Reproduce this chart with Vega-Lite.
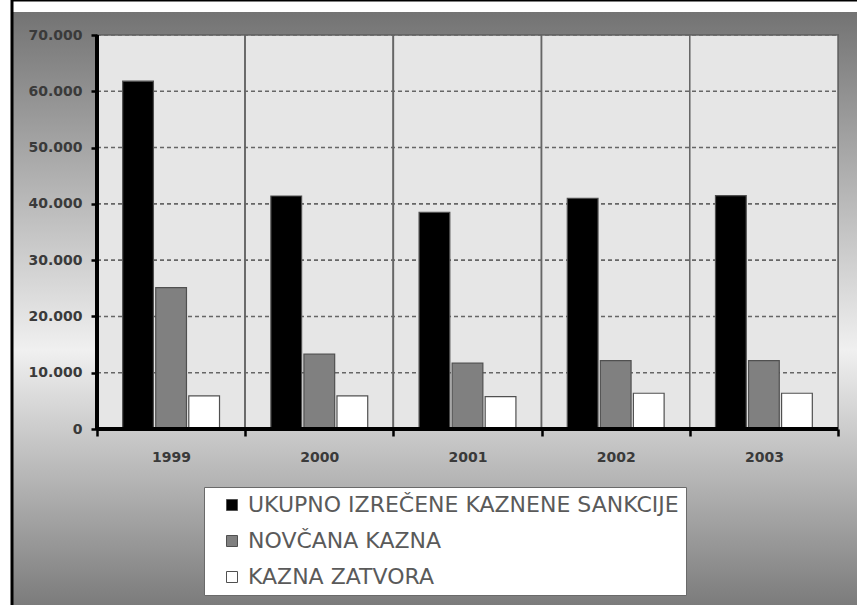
{
  "$schema": "https://vega.github.io/schema/vega-lite/v6.json",
  "width": 848,
  "height": 608,
  "autosize": {"type": "none"},
  "padding": {"left": 12, "top": 0, "right": 0, "bottom": 0},
  "background": "white",
  "view": {
    "fill": {
      "gradient": "linear", "x1": 0, "y1": 0, "x2": 0, "y2": 1,
      "stops": [
        {"offset": 0, "color": "#ffffff"},
        {"offset": 0.0195, "color": "#ffffff"},
        {"offset": 0.0198, "color": "#737373"},
        {"offset": 0.576, "color": "#f0f0f0"},
        {"offset": 1, "color": "#7a7a7a"}
      ]
    },
    "stroke": "black",
    "strokeWidth": 3
  },
  "config": {
    "font": "DejaVu Sans"
  },
  "datasets": {
    "main": [
      {"year": "1999", "series": "UKUPNO IZREČENE KAZNENE SANKCIJE", "value": 61800},
      {"year": "1999", "series": "NOVČANA KAZNA", "value": 25100},
      {"year": "1999", "series": "KAZNA ZATVORA", "value": 5900},
      {"year": "2000", "series": "UKUPNO IZREČENE KAZNENE SANKCIJE", "value": 41400},
      {"year": "2000", "series": "NOVČANA KAZNA", "value": 13300},
      {"year": "2000", "series": "KAZNA ZATVORA", "value": 5900},
      {"year": "2001", "series": "UKUPNO IZREČENE KAZNENE SANKCIJE", "value": 38500},
      {"year": "2001", "series": "NOVČANA KAZNA", "value": 11700},
      {"year": "2001", "series": "KAZNA ZATVORA", "value": 5750},
      {"year": "2002", "series": "UKUPNO IZREČENE KAZNENE SANKCIJE", "value": 41000},
      {"year": "2002", "series": "NOVČANA KAZNA", "value": 12150},
      {"year": "2002", "series": "KAZNA ZATVORA", "value": 6350},
      {"year": "2003", "series": "UKUPNO IZREČENE KAZNENE SANKCIJE", "value": 41450},
      {"year": "2003", "series": "NOVČANA KAZNA", "value": 12150},
      {"year": "2003", "series": "KAZNA ZATVORA", "value": 6350}
    ],
    "grid": [
      {"v": 10000}, {"v": 20000}, {"v": 30000}, {"v": 40000},
      {"v": 50000}, {"v": 60000}, {"v": 70000}
    ]
  },
  "data": {"name": "main"},
  "layer": [
    {
      "mark": {"type": "rect", "fill": "#e6e6e6", "stroke": "#666666", "strokeWidth": 1.5},
      "encoding": {
        "x": {
          "field": "year", "type": "nominal",
          "scale": {"domain": ["1999", "2000", "2001", "2002", "2003"], "range": [85, 826], "paddingInner": 0, "paddingOuter": 0},
          "axis": {
            "title": null, "domain": false, "grid": false, "offset": -179,
            "tickBand": "extent", "tickColor": "black", "tickWidth": 2.5, "tickSize": 7,
            "labelAngle": 0, "labelPadding": 14, "labelFont": "DejaVu Sans", "labelFontSize": 14,
            "labelFontWeight": "bold", "labelColor": "#3a3a3a", "zindex": 1
          }
        },
        "y": {
          "datum": 0, "type": "quantitative",
          "scale": {"domain": [0, 70000], "range": [429, 35], "nice": false, "zero": false},
          "axis": {
            "title": null, "domain": false, "grid": false, "offset": -85,
            "values": [0, 10000, 20000, 30000, 40000, 50000, 60000, 70000],
            "tickColor": "black", "tickWidth": 2.5, "tickSize": 6, "labelPadding": 9,
            "labelExpr": "replace(format(datum.value, ','), ',', '.')",
            "labelFont": "DejaVu Sans", "labelFontSize": 14, "labelFontWeight": "bold",
            "labelColor": "#3a3a3a", "zindex": 1
          }
        },
        "y2": {"datum": 70000}
      }
    },
    {
      "data": {"name": "grid"},
      "mark": {"type": "rule", "stroke": "#666666", "strokeWidth": 1.6, "strokeDash": [4, 3]},
      "encoding": {
        "y": {"field": "v", "type": "quantitative"},
        "x": {"datum": "1999", "bandPosition": 0},
        "x2": {"datum": "2003", "bandPosition": 1}
      }
    },
    {
      "mark": {"type": "bar", "stroke": "#505050", "strokeWidth": 1.2},
      "encoding": {
        "x": {"field": "year", "type": "nominal"},
        "xOffset": {
          "field": "series", "type": "nominal",
          "scale": {"domain": ["UKUPNO IZREČENE KAZNENE SANKCIJE", "NOVČANA KAZNA", "KAZNA ZATVORA"], "paddingInner": 0.07, "paddingOuter": 0.777}
        },
        "y": {"field": "value", "type": "quantitative"},
        "color": {
          "field": "series", "type": "nominal",
          "scale": {"domain": ["UKUPNO IZREČENE KAZNENE SANKCIJE", "NOVČANA KAZNA", "KAZNA ZATVORA"], "range": ["#000000", "#808080", "#ffffff"]},
          "legend": {
            "orient": "none", "legendX": 192, "legendY": 487, "direction": "vertical",
            "title": null, "fillColor": "white", "strokeColor": "#6a6a6a",
            "padding": 7, "symbolType": "square", "symbolSize": 121,
            "symbolStrokeColor": "#505050", "symbolStrokeWidth": 1, "symbolOffset": 10,
            "labelFont": "DejaVu Sans", "labelFontSize": 22, "labelColor": "#5a5a5a",
            "labelOffset": 5, "rowPadding": 14, "labelLimit": 700
          }
        }
      }
    },
    {
      "mark": {"type": "rule", "color": "black", "strokeWidth": 3},
      "encoding": {
        "x": {"datum": "1999", "bandPosition": 0},
        "y": {"datum": 0},
        "y2": {"datum": 70000}
      }
    },
    {
      "mark": {"type": "rule", "color": "black", "strokeWidth": 3},
      "encoding": {
        "y": {"datum": 0},
        "x": {"datum": "1999", "bandPosition": 0},
        "x2": {"datum": "2003", "bandPosition": 1}
      }
    }
  ]
}
